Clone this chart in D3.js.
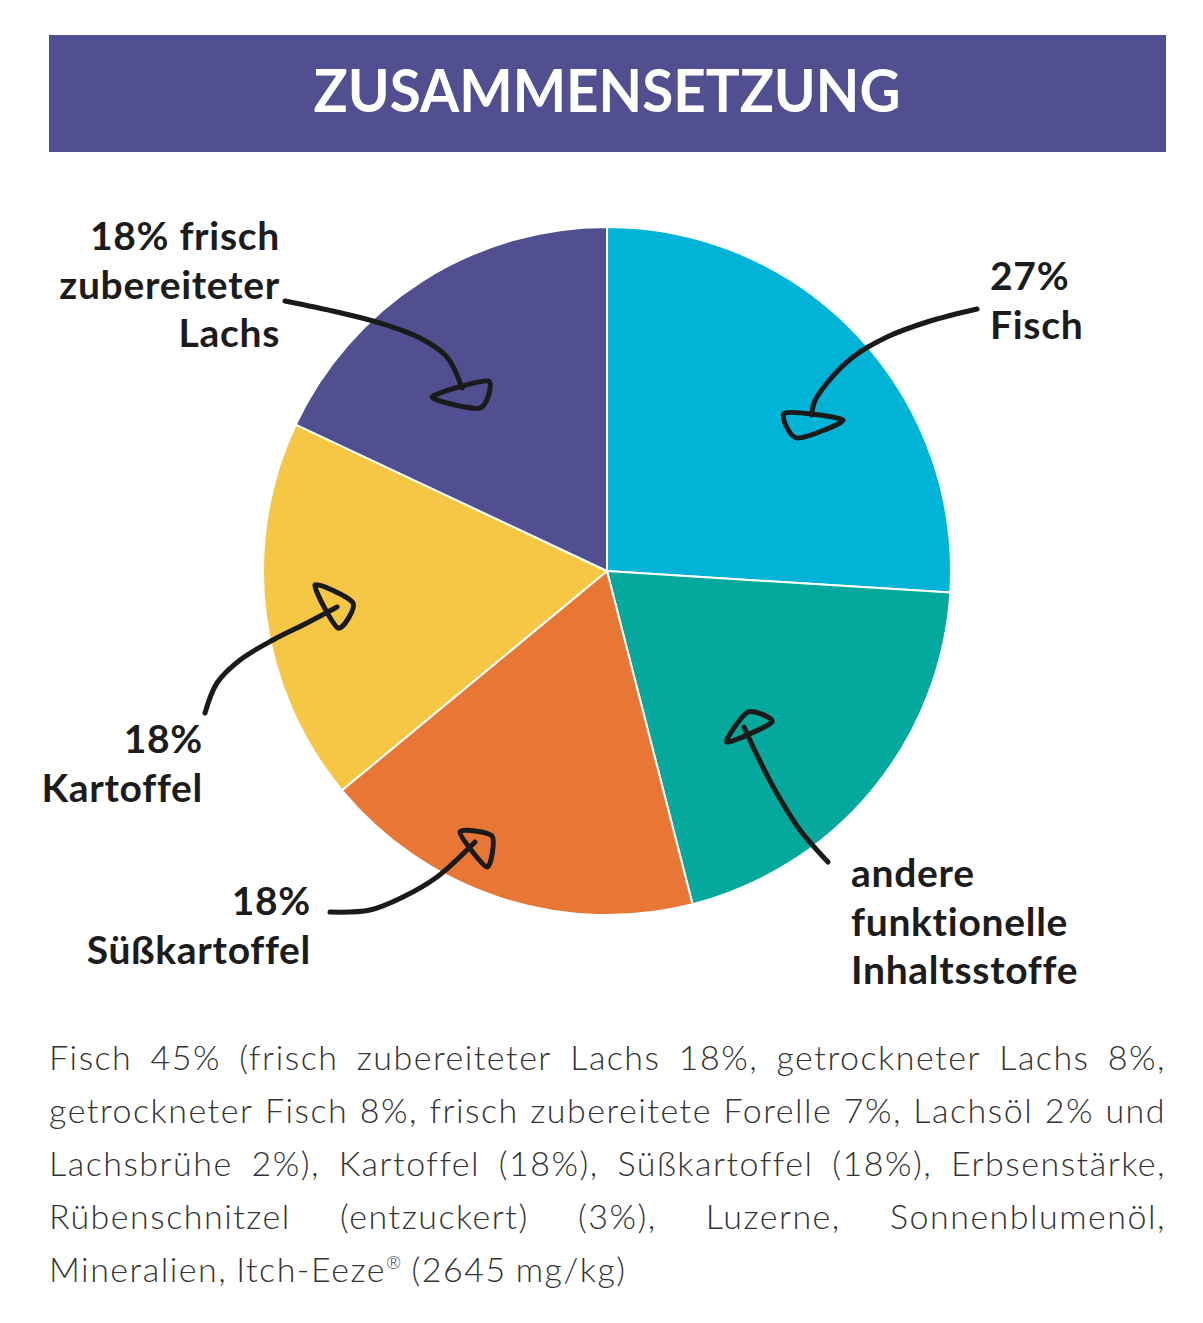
<!DOCTYPE html>
<html><head><meta charset="utf-8">
<script src="https://cdn.jsdelivr.net/npm/d3@7"></script>
<style>body{margin:0;background:#fff}</style>
</head><body>
<svg id="chart" width="1203" height="1323"></svg>
<script>
// ---- data ----
const title = "ZUSAMMENSETZUNG";
const categories = ["Fisch", "andere funktionelle Inhaltsstoffe", "Süßkartoffel", "Kartoffel", "frisch zubereiteter Lachs"];
const values = [26, 20, 18, 18, 18];
const colors = ["#01b3d6", "#04a89d", "#e87634", "#f6c744", "#524f90"];
const labelLines = [
  ["27%", "Fisch"],
  ["andere", "funktionelle", "Inhaltsstoffe"],
  ["18%", "Süßkartoffel"],
  ["18%", "Kartoffel"],
  ["18% frisch", "zubereiteter", "Lachs"]
];
const bodyLines = [
  "Fisch 45% (frisch zubereiteter Lachs 18%, getrockneter Lachs 8%,",
  "getrockneter Fisch 8%, frisch zubereitete Forelle 7%, Lachsöl 2% und",
  "Lachsbrühe 2%), Kartoffel (18%), Süßkartoffel (18%), Erbsenstärke,",
  "Rübenschnitzel (entzuckert) (3%), Luzerne, Sonnenblumenöl,",
  "Mineralien, Itch-Eeze® (2645 mg/kg)"
];

// ---- layout ----
const svg = d3.select("#chart");
const cx = 607, cy = 571, R = 344;

// title bar
svg.append("rect").attr("x", 49).attr("y", 35).attr("width", 1117).attr("height", 117).attr("fill", "#524f90");
svg.append("text").attr("x", 607).attr("y", 112).attr("text-anchor", "middle")
  .attr("font-family", "Lato, sans-serif").attr("font-weight", 700).attr("font-size", 60)
  .attr("fill", "#fff").attr("textLength", 587).attr("lengthAdjust", "spacingAndGlyphs").text(title);

// pie
const pie = d3.pie().sort(null).value(d => d)(values);
const arc = d3.arc().innerRadius(0).outerRadius(R);
svg.append("g").attr("transform", `translate(${cx},${cy})`)
  .selectAll("path").data(pie).join("path")
  .attr("d", arc).attr("fill", (d, i) => colors[i])
  .attr("stroke", "#fff").attr("stroke-width", 2).attr("stroke-linejoin", "round");

// labels
const labelPos = [
  {x: 990, y: 290, anchor: "start"},
  {x: 851, y: 887, anchor: "start"},
  {x: 311, y: 915, anchor: "end"},
  {x: 203, y: 753, anchor: "end"},
  {x: 280, y: 250, anchor: "end"}
];
const lg = svg.append("g").attr("font-family", "Lato, sans-serif").attr("font-weight", 700)
  .attr("font-size", 39).attr("letter-spacing", 0.7).attr("fill", "#1c1c1c");
labelLines.forEach((lines, i) => {
  const p = labelPos[i];
  const t = lg.append("text").attr("text-anchor", p.anchor);
  lines.forEach((ln, j) => t.append("tspan").attr("x", p.x).attr("y", p.y + j * 48.5).text(ln));
});

// arrows (annotations)
const arrows = [
  {shaft: [[977,309],[927,322],[887,337],[853,357],[827,383],[814,403],[812,415]], head: [[785,413],[843,420],[797,438]]},
  {shaft: [[828,862],[800,830],[775,790],[757,755],[744,727]], head: [[727,742],[748,712],[772,722]]},
  {shaft: [[330,912],[370,910],[403,897],[437,877],[475,842]], head: [[460,832],[492,836],[487,867]]},
  {shaft: [[205,713],[217,683],[240,660],[273,640],[307,623],[337,607]], head: [[315,585],[353,603],[338,628]]},
  {shaft: [[285,301],[337,312],[380,323],[420,338],[447,357],[462,388]], head: [[432,397],[488,381],[480,408]]}
];
const ag = svg.append("g").attr("fill", "none").attr("stroke", "#1a1a1a").attr("stroke-width", 5)
  .attr("stroke-linecap", "round").attr("stroke-linejoin", "round");
const shaftLine = d3.line().curve(d3.curveCatmullRom.alpha(0.5));
const headLine = d3.line().curve(d3.curveCardinalClosed.tension(0.25));
arrows.forEach(a => {
  ag.append("path").attr("d", shaftLine(a.shaft));
  ag.append("path").attr("d", headLine(a.head));
});

// body paragraph, justified
const bg = svg.append("g").attr("font-family", "Lato, sans-serif").attr("font-weight", 300)
  .attr("font-size", 34).attr("letter-spacing", 1.5).attr("fill", "#333");
const left = 49, right = 1166, base0 = 1070, lh = 53;
bodyLines.forEach((ln, i) => {
  const y = base0 + i * lh;
  const words = ln.split(" ");
  const last = i === bodyLines.length - 1;
  const nodes = words.map(w => {
    const t = bg.append("text").attr("y", y);
    if (w.includes("®")) {
      const parts = w.split("®");
      t.append("tspan").text(parts[0]);
      t.append("tspan").attr("font-size", 18).attr("dy", -13).text("®");
      t.append("tspan").attr("dy", 13).text(parts[1]);
    } else t.text(w);
    return t;
  });
  const widths = nodes.map(n => n.node().getComputedTextLength());
  const total = d3.sum(widths);
  const space = 9;
  const gap = last ? space : (right - left - total) / (words.length - 1);
  let x = left;
  nodes.forEach((n, k) => { n.attr("x", x); x += widths[k] + gap; });
});
</script>
</body></html>
